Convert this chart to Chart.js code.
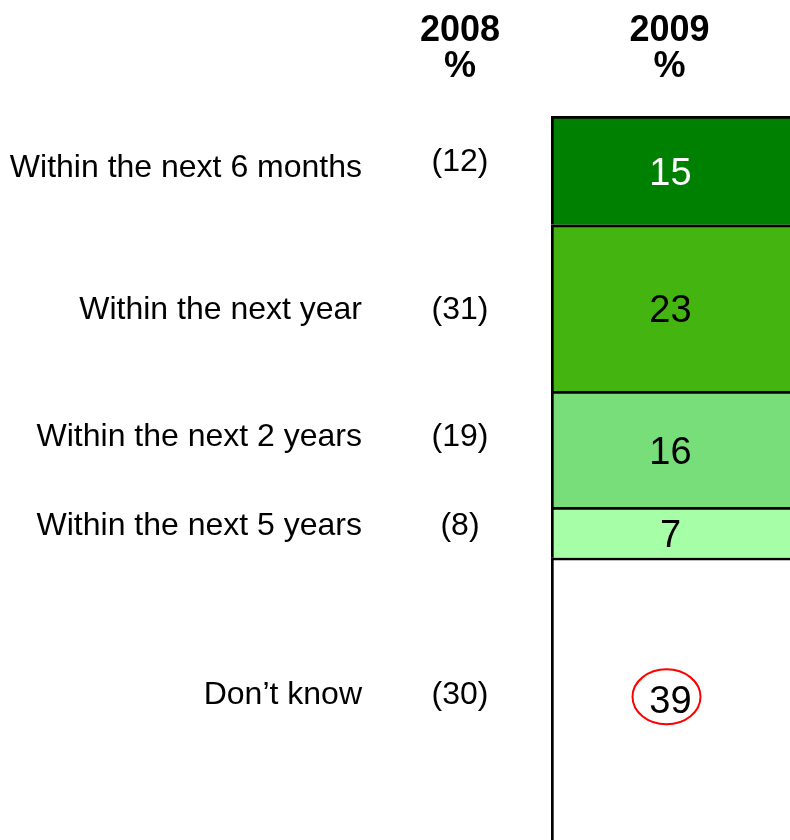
<!DOCTYPE html>
<html>
<head>
<meta charset="utf-8">
<script src="https://cdn.jsdelivr.net/npm/chart.js@4.4.1/dist/chart.umd.min.js"></script>
<style>
  html, body { margin: 0; padding: 0; background: #fff; overflow: hidden; }
  #wrap { position: absolute; left: 0; top: 0; width: 790px; height: 840px; }
</style>
</head>
<body>
<div id="wrap"><canvas id="chart" width="790" height="840"></canvas></div>
<script>
const years = ['2008', '2009'];
const answers = ['Within the next 6 months', 'Within the next year', 'Within the next 2 years', 'Within the next 5 years', 'Don\u2019t know'];
const values2009 = [15, 23, 16, 7, 39];
const values2008 = [12, 31, 19, 8, 30];
const highlighted = ['Don\u2019t know'];

const colors = ['#008000', '#43B410', '#77DE79', '#A6FFA6', '#FFFFFF'];
const valueColors = ['#FFFFFF', '#000000', '#000000', '#000000', '#000000'];
const FONT = '"Liberation Sans", Arial, sans-serif';

// small vertical nudges for the left-hand text, relative to segment centres
const labelNudge = [-5, 0, -14, -9, -6];
const prevNudge = [-11, 0, -14, -9, -6];

// draws text with its cap height centred on y
function drawText(ctx, text, x, y, size, bold, align, color) {
  ctx.save();
  ctx.font = (bold ? 'bold ' : '') + size + 'px ' + FONT;
  ctx.textAlign = align;
  ctx.textBaseline = 'alphabetic';
  ctx.fillStyle = color;
  ctx.fillText(text, x, y + size * 0.358);
  ctx.restore();
}

const textPlugin = {
  id: 'textPlugin',
  afterDatasetsDraw(chart) {
    const ctx = chart.ctx;
    let barX = 0;
    chart.data.datasets.forEach((ds, i) => {
      const el = chart.getDatasetMeta(i).data[0];
      const cy = (el.y + el.base) / 2;
      barX = el.x;
      drawText(ctx, String(values2009[i]), el.x, cy + 1, 38, false, 'center', valueColors[i]);
      drawText(ctx, answers[i], 362, cy + labelNudge[i], 32, false, 'right', '#000');
      drawText(ctx, '(' + values2008[i] + ')', 460, cy + prevNudge[i], 32, false, 'center', '#000');
      if (highlighted.includes(answers[i])) {
        ctx.save();
        ctx.strokeStyle = '#FF0000';
        ctx.lineWidth = 2;
        ctx.beginPath();
        ctx.ellipse(el.x - 4, cy - 2, 34, 27.5, 0, 0, Math.PI * 2);
        ctx.stroke();
        ctx.restore();
      }
    });
    const headerX = [460, barX - 1];
    years.forEach((y, i) => {
      drawText(ctx, y, headerX[i], 28, 36, true, 'center', '#000');
      drawText(ctx, '%', headerX[i], 64, 36, true, 'center', '#000');
    });
  }
};

const ctx = document.getElementById('chart').getContext('2d');
new Chart(ctx, {
  type: 'bar',
  data: {
    labels: [years[1]],
    datasets: answers.map((a, i) => ({
      label: a,
      data: [values2009[i]],
      backgroundColor: colors[i],
      borderColor: '#000',
      borderWidth: { top: 3, left: 3, right: 0, bottom: 0 },
      borderSkipped: false,
      barPercentage: 1,
      categoryPercentage: 1
    }))
  },
  options: {
    responsive: false,
    animation: false,
    layout: { padding: { left: 551, top: 116, right: 0, bottom: 0 } },
    plugins: { legend: { display: false }, tooltip: { enabled: false } },
    scales: {
      x: { display: false, stacked: true },
      y: { display: false, stacked: true, reverse: true, min: 0, max: 100 }
    }
  },
  plugins: [textPlugin]
});
</script>
</body>
</html>
